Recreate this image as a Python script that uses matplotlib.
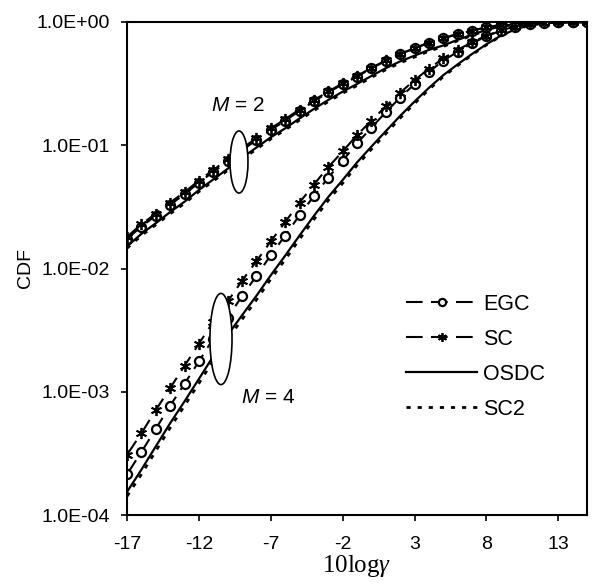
import numpy as np
import matplotlib
matplotlib.use("Agg")
import matplotlib.pyplot as plt
from matplotlib.patches import Ellipse
from matplotlib.ticker import FixedLocator, FuncFormatter, NullLocator

plt.rcParams["font.family"] = ["Liberation Sans", "DejaVu Sans"]
plt.rcParams["axes.unicode_minus"] = False
plt.rcParams["mathtext.fontset"] = "custom"
plt.rcParams["mathtext.rm"] = "Liberation Serif"
plt.rcParams["mathtext.it"] = "Liberation Serif:italic"
plt.rcParams["mathtext.sf"] = "Liberation Sans:italic"

# Eixo x (10log gamma, dB)
snr_db = np.arange(-17, 16)

# M = 2
egc_m2 = [0.0174, 0.0219, 0.0268, 0.033, 0.040, 0.0498, 0.0607, 0.074, 0.091, 0.110,
          0.133, 0.158, 0.19, 0.227, 0.268, 0.313, 0.361, 0.42, 0.485, 0.55,
          0.61, 0.68, 0.736, 0.80, 0.85, 0.906, 0.946, 0.97, 0.985, 0.994,
          0.998, 1.0, 1.0]
sc_m2 = [0.0181, 0.0228, 0.0279, 0.0343, 0.0416, 0.0517, 0.063, 0.0768, 0.0943, 0.114,
         0.137, 0.163, 0.195, 0.232, 0.273, 0.318, 0.366, 0.424, 0.488, 0.552,
         0.612, 0.681, 0.737, 0.80, 0.85, 0.906, 0.946, 0.97, 0.985, 0.994,
         0.998, 1.0, 1.0]
osdc_m2 = [0.0151, 0.0191, 0.0233, 0.0287, 0.0348, 0.0433, 0.0528, 0.0644, 0.0792, 0.0957,
           0.116, 0.137, 0.165, 0.197, 0.233, 0.272, 0.314, 0.365, 0.422, 0.479,
           0.533, 0.594, 0.645, 0.717, 0.788, 0.863, 0.921, 0.96, 0.982, 0.993,
           0.998, 1.0, 1.0]
sc2_m2 = [0.0146, 0.0185, 0.0226, 0.0278, 0.0338, 0.042, 0.0512, 0.0625, 0.0768, 0.0928,
          0.1125, 0.133, 0.16, 0.191, 0.226, 0.264, 0.305, 0.355, 0.41, 0.466,
          0.519, 0.58, 0.632, 0.705, 0.778, 0.855, 0.916, 0.957, 0.98, 0.992,
          0.998, 1.0, 1.0]

# M = 4
egc_m4 = [2.14e-4, 3.24e-4, 5.0e-4, 7.7e-4, 1.16e-3, 1.76e-3, 2.7e-3, 4.0e-3, 5.96e-3, 8.7e-3,
          0.0128, 0.0185, 0.027, 0.0387, 0.0546, 0.075, 0.1035, 0.139, 0.185, 0.244,
          0.313, 0.394, 0.485, 0.574, 0.67, 0.766, 0.85, 0.916, 0.96, 0.985,
          0.995, 0.999, 1.0]
sc_m4 = [3.08e-4, 4.6e-4, 7.1e-4, 1.07e-3, 1.62e-3, 2.45e-3, 3.7e-3, 5.4e-3, 7.95e-3, 0.01145,
         0.0166, 0.0238, 0.0342, 0.048, 0.0665, 0.089, 0.121, 0.158, 0.207, 0.267,
         0.337, 0.418, 0.507, 0.594, 0.685, 0.775, 0.855, 0.918, 0.961, 0.985,
         0.995, 0.999, 1.0]
osdc_m4 = [1.54e-4, 2.33e-4, 3.6e-4, 5.55e-4, 8.35e-4, 1.27e-3, 1.94e-3, 2.88e-3, 4.17e-3, 6.0e-3,
           8.8e-3, 0.0127, 0.0185, 0.0267, 0.038, 0.0522, 0.0725, 0.0975, 0.130, 0.173,
           0.226, 0.292, 0.37, 0.453, 0.55, 0.659, 0.774, 0.870, 0.941, 0.980,
           0.994, 0.999, 1.0]
sc2_m4 = [1.42e-4, 2.14e-4, 3.3e-4, 5.1e-4, 7.7e-4, 1.17e-3, 1.79e-3, 2.66e-3, 3.86e-3, 5.56e-3,
          8.2e-3, 0.0118, 0.0173, 0.025, 0.0357, 0.0492, 0.0687, 0.0928, 0.124, 0.166,
          0.218, 0.283, 0.36, 0.443, 0.541, 0.651, 0.768, 0.866, 0.939, 0.979,
          0.994, 0.999, 1.0]

x_ticks = [-17, -12, -7, -2, 3, 8, 13]
y_ticks = [1e-4, 1e-3, 1e-2, 1e-1, 1e0]

fig = plt.figure(figsize=(5.96, 5.86), dpi=100)
ax = fig.add_axes([127 / 596, 71 / 586, 460 / 596, 493 / 586])

# Estilos das curvas
estilo_osdc = dict(color="black", linestyle="-", linewidth=1.6)
estilo_sc2 = dict(color="black", linestyle=(0, (1.5, 2.5)), linewidth=2.0)
estilo_sc = dict(color="black", linestyle=(0, (8, 4)), linewidth=1.5,
                 marker=(6, 2, 0), markersize=8, markeredgewidth=1.3)
estilo_egc = dict(color="black", linestyle=(0, (8, 4)), linewidth=1.5,
                  marker="o", markersize=6.5, markerfacecolor="white",
                  markeredgewidth=1.6)

for osdc, sc2, sc, egc in [(osdc_m2, sc2_m2, sc_m2, egc_m2),
                           (osdc_m4, sc2_m4, sc_m4, egc_m4)]:
    ax.plot(snr_db, osdc, **estilo_osdc)
    ax.plot(snr_db, sc2, **estilo_sc2)
    ax.plot(snr_db, egc, **estilo_egc)
    ax.plot(snr_db, sc, **estilo_sc)

ax.set_yscale("log")
ax.set_xlim(-17, 15)
ax.set_ylim(1e-4, 1e0)
ax.xaxis.set_major_locator(FixedLocator(x_ticks))
ax.yaxis.set_major_locator(FixedLocator(y_ticks))
ax.yaxis.set_minor_locator(NullLocator())
ax.yaxis.set_major_formatter(FuncFormatter(lambda v, p: f"{v:.1E}"))
ax.tick_params(direction="out", length=4, width=1.2, labelsize=14)
ax.tick_params(axis="x", pad=11)
ax.tick_params(axis="y", pad=8)
for sp in ax.spines.values():
    sp.set_linewidth(1.5)

ax.set_xlabel(r"$\mathrm{10log}\mathit{\gamma}$", fontsize=18, labelpad=0)
ax.set_ylabel("CDF", fontsize=14, labelpad=2)

# Elipses e rótulos M
ax.add_patch(Ellipse((0.2435, 0.716), 0.039, 0.126, transform=ax.transAxes,
                     facecolor="white", edgecolor="black", linewidth=1.2, zorder=5))
ax.add_patch(Ellipse((0.2043, 0.357), 0.048, 0.185, transform=ax.transAxes,
                     facecolor="white", edgecolor="black", linewidth=1.2, zorder=5))
ax.text(0.241, 0.830, r"$\mathsf{M}$ = 2", transform=ax.transAxes,
        ha="center", va="center", fontsize=15)
ax.text(0.3065, 0.239, r"$\mathsf{M}$ = 4", transform=ax.transAxes,
        ha="center", va="center", fontsize=15)

# Legenda
h_egc, = ax.plot([], [], **estilo_egc)
h_sc, = ax.plot([], [], **estilo_sc)
h_osdc, = ax.plot([], [], **estilo_osdc)
h_sc2, = ax.plot([], [], **estilo_sc2)
ax.legend([h_egc, h_sc, h_osdc, h_sc2], ["EGC", "SC", "OSDC", "SC2"],
          loc="upper left", bbox_to_anchor=(406 / 596, 1 - 294 / 586),
          bbox_transform=fig.transFigure, frameon=False, fontsize=15.5,
          handlelength=3.3, handletextpad=0.3, labelspacing=0.65,
          borderpad=0, borderaxespad=0, markerscale=0.8)

plt.savefig("out.png", dpi=100)
